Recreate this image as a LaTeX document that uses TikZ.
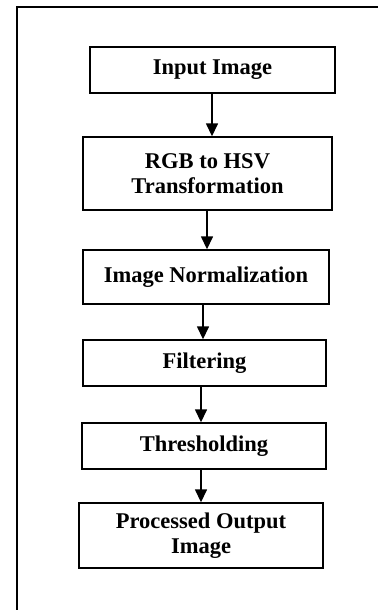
\documentclass[tikz,border=0pt]{standalone}
\usepackage{fontspec}
\setmainfont{Liberation Serif}
\usetikzlibrary{arrows.meta}
\tikzset{
  stage/.style={draw=black, line width=1.4pt, rectangle, inner sep=0pt,
    align=center, font=\fontsize{22.5}{25}\selectfont\bfseries},
  flow/.style={line width=1.5pt, -{Triangle[width=12pt,length=13pt]}},
  frame/.style={line width=1.6pt}
}
\begin{document}
\begin{tikzpicture}[x=1pt,y=-1pt]
\useasboundingbox (0,0) rectangle (378,610);
% open outer frame
\draw[frame] (17,610) -- (17,7) -- (378,7);
% processing stages
\node[stage, minimum width=245pt, minimum height=46pt] (b1) at (212.5,70) {Input Image};
\node[stage, minimum width=249pt, minimum height=73pt] (b2) at (207.5,173.5) {RGB to HSV\\Transformation};
\node[stage, minimum width=246pt, minimum height=54pt] (b3) at (206,277) {Image Normalization};
\node[stage, minimum width=243pt, minimum height=46pt] (b4) at (204.5,363) {Filtering};
\node[stage, minimum width=244pt, minimum height=46pt] (b5) at (204,446) {Thresholding};
\node[stage, minimum width=244pt, minimum height=65pt] (b6) at (201,535.5) {Processed Output\\Image};
% connectors
\draw[flow] ([xshift=-0.5pt]b1.south) -- ([xshift=-0.5pt]b1.south |- b2.north);
\draw[flow] ([xshift=-0.5pt]b2.south) -- ([xshift=-0.5pt]b2.south |- b3.north);
\draw[flow] ([xshift=-3pt]b3.south) -- ([xshift=-3pt]b3.south |- b4.north);
\draw[flow] ([xshift=-3.5pt]b4.south) -- ([xshift=-3.5pt]b4.south |- b5.north);
\draw[flow] ([xshift=-3pt]b5.south) -- ([xshift=-3pt]b5.south |- b6.north);
\end{tikzpicture}
\end{document}
